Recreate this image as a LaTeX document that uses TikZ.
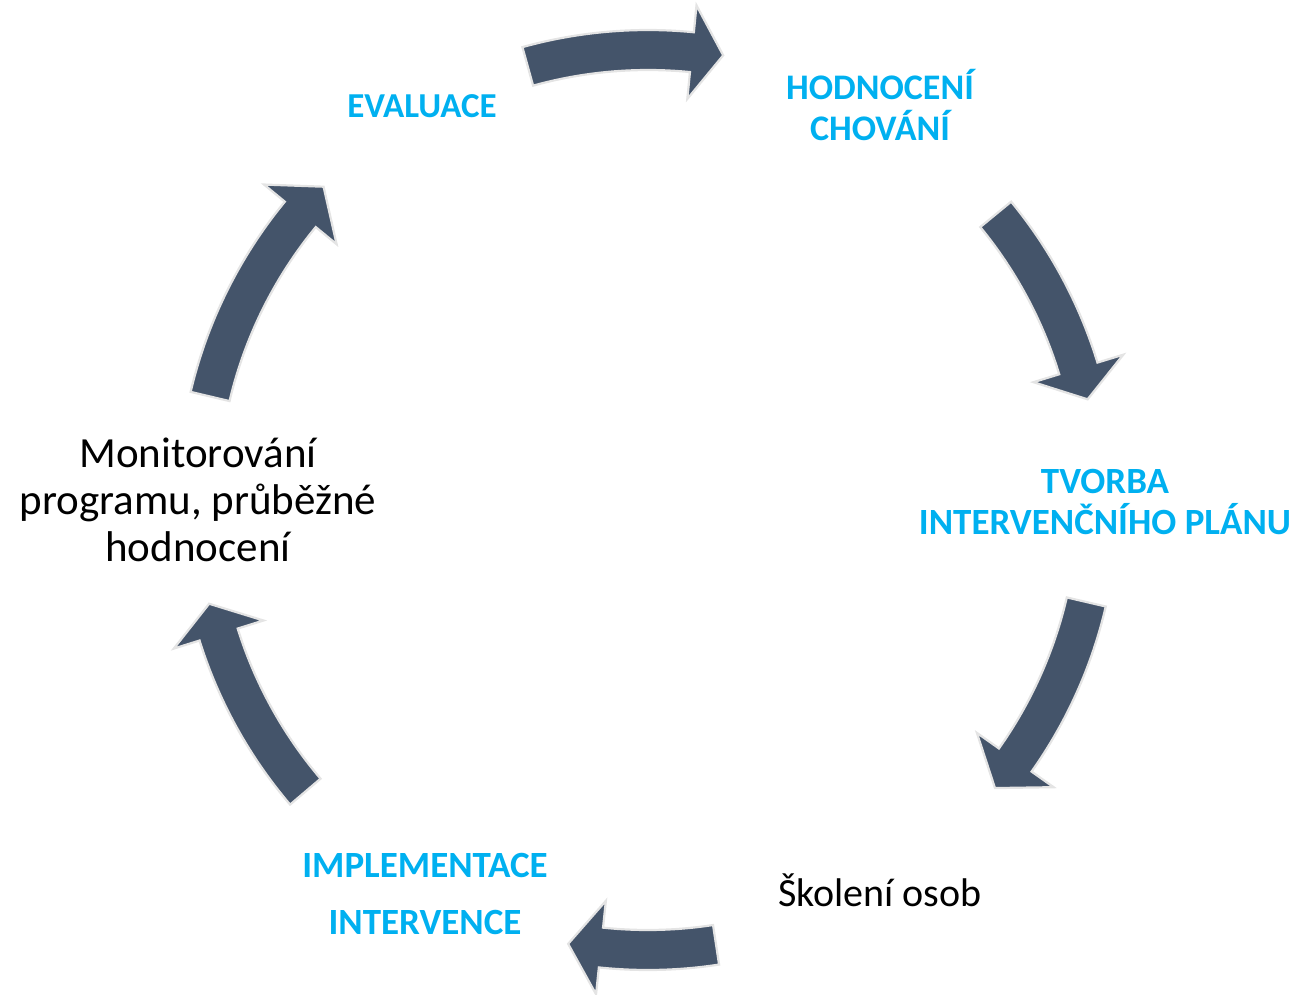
\documentclass[tikz,border=0pt]{standalone}
\usepackage{fontspec}
\setmainfont{Carlito}
\usetikzlibrary{calc}
\definecolor{cyantext}{HTML}{00B0F0}
\definecolor{arrowfill}{HTML}{44546A}
\definecolor{arrowedge}{HTML}{E4E4E4}
\tikzset{
  cyclearrow/.style={fill=arrowfill, draw=arrowedge, line width=2.2pt, line join=miter},
  steplabel/.style={text=cyantext, font=\bfseries\fontsize{36}{41}\selectfont, align=center, inner sep=0pt},
  plainlabel/.style={text=black, font=\fontsize{40}{47}\selectfont, align=center, inner sep=0pt}
}
\newcommand{\cycarrow}[3]{%
  \path[cyclearrow] ($(C)+(#1:470)$) arc[start angle=#1, end angle=#2, radius=470]
    -- ($(C)+(#2:497)$) -- ($(C)+(#3:451)$) -- ($(C)+(#2:403)$) -- ($(C)+(#2:430)$)
    arc[start angle=#2, end angle=#1, radius=430] -- cycle;}
\begin{document}
\begin{tikzpicture}[x=1pt,y=1pt]
\useasboundingbox (0,0) rectangle (1298,994);
\coordinate (C) at (648,494);
% arrows
\cycarrow{105.5}{84.4}{80.4}
\cycarrow{39.4}{17}{12.9}
\cycarrow{-13.1}{-35.3}{-39.7}
\cycarrow{-81.3}{-96}{-100.2}
\cycarrow{220.4}{197.4}{193.3}
\cycarrow{166.7}{140.6}{136}
% labels
\node[steplabel, font=\bfseries\fontsize{35}{41}\selectfont] (eval) at (422,888) {EVALUACE};
\node[steplabel] (hodn) at (880,889) {HODNOCENÍ\\CHOVÁNÍ};
\node[steplabel, font=\bfseries\fontsize{37}{41}\selectfont] (tvorba) at (1105,492) {TVORBA\\INTERVENČNÍHO PLÁNU};
\node[plainlabel] (skol) at (880,104) {Školení osob};
\node[steplabel, font=\bfseries\fontsize{37}{57}\selectfont] (impl) at (425,100) {IMPLEMENTACE\\INTERVENCE};
\node[plainlabel, font=\fontsize{43}{47}\selectfont] (monit) at (198,494) {Monitorování\\programu, průběžné\\hodnocení};
\end{tikzpicture}
\end{document}
